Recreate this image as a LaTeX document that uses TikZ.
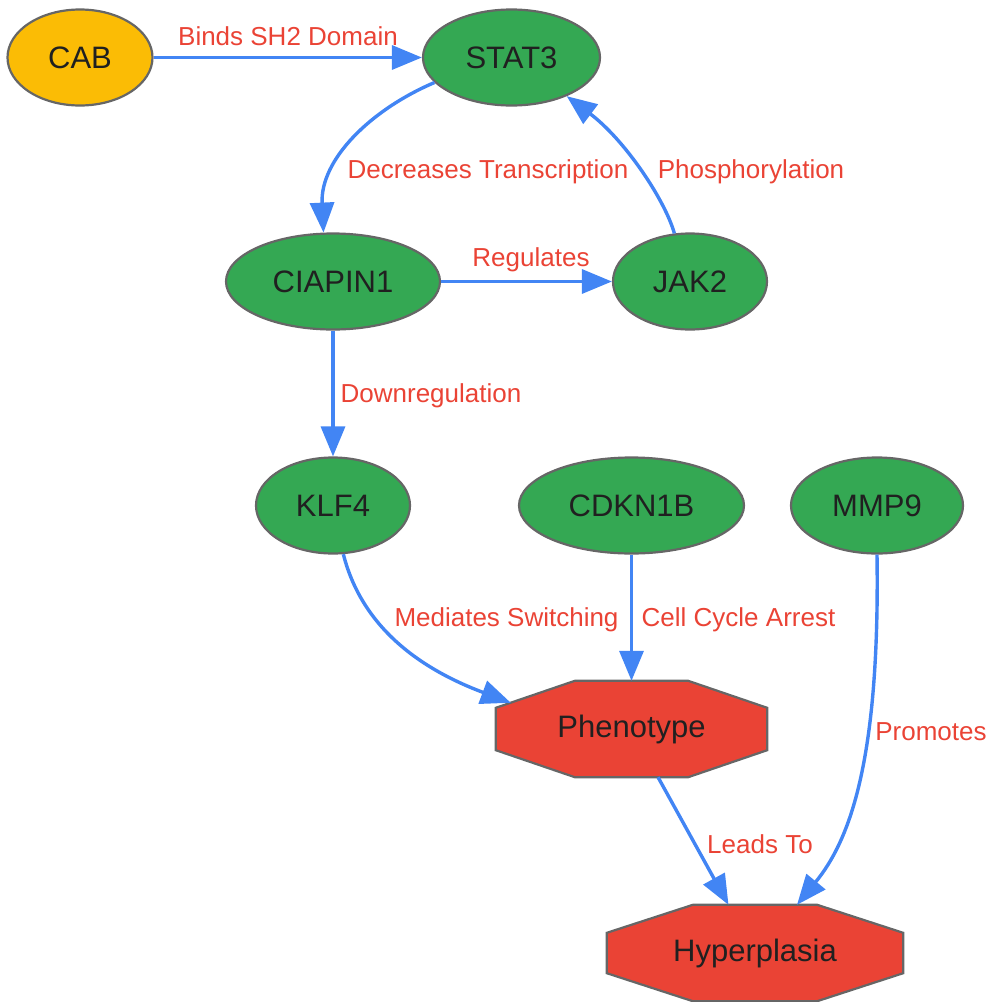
\documentclass[tikz,border=0pt]{standalone}
\usepackage{fontspec}
\setmainfont{Liberation Sans}
\usetikzlibrary{shapes.geometric,arrows.meta,calc}
\definecolor{ggreen}{HTML}{34A853}
\definecolor{gyellow}{HTML}{FBBC05}
\definecolor{gred}{HTML}{EA4335}
\definecolor{gblue}{HTML}{4285F4}
\definecolor{gborder}{HTML}{666666}
\definecolor{gtext}{HTML}{202020}
\pgfdeclarelayer{background}
\pgfsetlayers{background,main}
\begin{document}
\begin{tikzpicture}[x=1pt,y=-1pt,
  base/.style={draw=gborder, line width=2.2pt, inner sep=0pt, text=gtext, font=\fontsize{31}{36}\selectfont},
  gene/.style={base, ellipse, fill=ggreen, minimum height=96pt},
  drug/.style={base, ellipse, fill=gyellow, minimum height=96pt},
  pheno/.style={rectangle, inner sep=0pt, text=gtext, font=\fontsize{31}{36}\selectfont, minimum height=96pt},
  octa/.style={draw=gborder, line width=2.2pt, fill=gred, line join=miter},
  edge/.style={draw=gblue, line width=3.4pt, -{Triangle[length=30pt,width=24pt]}},
  lab/.style={text=gred, inner sep=0pt, font=\fontsize{26}{30}\selectfont}
]
\useasboundingbox (0,0) rectangle (988,1002);
% nodes
\node[drug, minimum width=145pt] (cab) at (80,57.5) {CAB};
\node[gene, minimum width=177pt] (stat3) at (511.5,57.5) {STAT3};
\node[gene, minimum width=214pt] (ciapin1) at (333,281.5) {CIAPIN1};
\node[gene, minimum width=154pt] (jak2) at (690,281.5) {JAK2};
\node[gene, minimum width=154pt] (klf4) at (333,505.5) {KLF4};
\node[gene, minimum width=225pt] (cdkn1b) at (631.5,505.5) {CDKN1B};
\node[gene, minimum width=172pt] (mmp9) at (877,505.5) {MMP9};
\node[pheno, minimum width=271pt] (phen) at (631.5,729) {Phenotype};
\node[pheno, minimum width=296pt] (hyper) at (755,953) {Hyperplasia};
\begin{pgfonlayer}{background}
\draw[octa] ($(phen.north west)+(79,0)$) -- ($(phen.north east)+(-79,0)$) -- ($(phen.north east)+(0,27)$) -- ($(phen.south east)+(0,-27)$) -- ($(phen.south east)+(-79,0)$) -- ($(phen.south west)+(79,0)$) -- ($(phen.south west)+(0,-27)$) -- ($(phen.north west)+(0,27)$) -- cycle;
\draw[octa] ($(hyper.north west)+(86,0)$) -- ($(hyper.north east)+(-86,0)$) -- ($(hyper.north east)+(0,28)$) -- ($(hyper.south east)+(0,-28)$) -- ($(hyper.south east)+(-86,0)$) -- ($(hyper.south west)+(86,0)$) -- ($(hyper.south west)+(0,-28)$) -- ($(hyper.north west)+(0,28)$) -- cycle;
\end{pgfonlayer}
% edges
\draw[edge] (cab) -- (stat3);
\draw[edge] (stat3.198) .. controls (370,110) and (320,160) .. (ciapin1.101);
\draw[edge] (jak2.108) .. controls (665,200) and (625,140) .. (stat3.325);
\draw[edge] (ciapin1) -- (jak2);
\draw[edge] (ciapin1) -- (klf4);
\draw[edge] (klf4.282) .. controls (360,620) and (410,665) .. ($(phen.north west)+(15,22)$);
\draw[edge] (cdkn1b) -- (phen);
\draw[edge] (mmp9.south) .. controls (880,760) and (850,840) .. ($(hyper.north)+(42,0)$);
\draw[edge] (phen) -- (hyper);
% labels
\node[lab] (l1) at (288,36) {Binds SH2 Domain};
\node[lab] (l2) at (488,172) {Decreases Transcription};
\node[lab] (l3) at (751,172) {Phosphorylation};
\node[lab] (l4) at (531,260) {Regulates};
\node[lab] (l5) at (431,396) {Downregulation};
\node[lab] (l6) at (506.5,620) {Mediates Switching};
\node[lab] (l7) at (738.5,620) {Cell Cycle Arrest};
\node[lab] (l8) at (931,732) {Promotes};
\node[lab] (l9) at (760,844) {Leads To};
\end{tikzpicture}
\end{document}
